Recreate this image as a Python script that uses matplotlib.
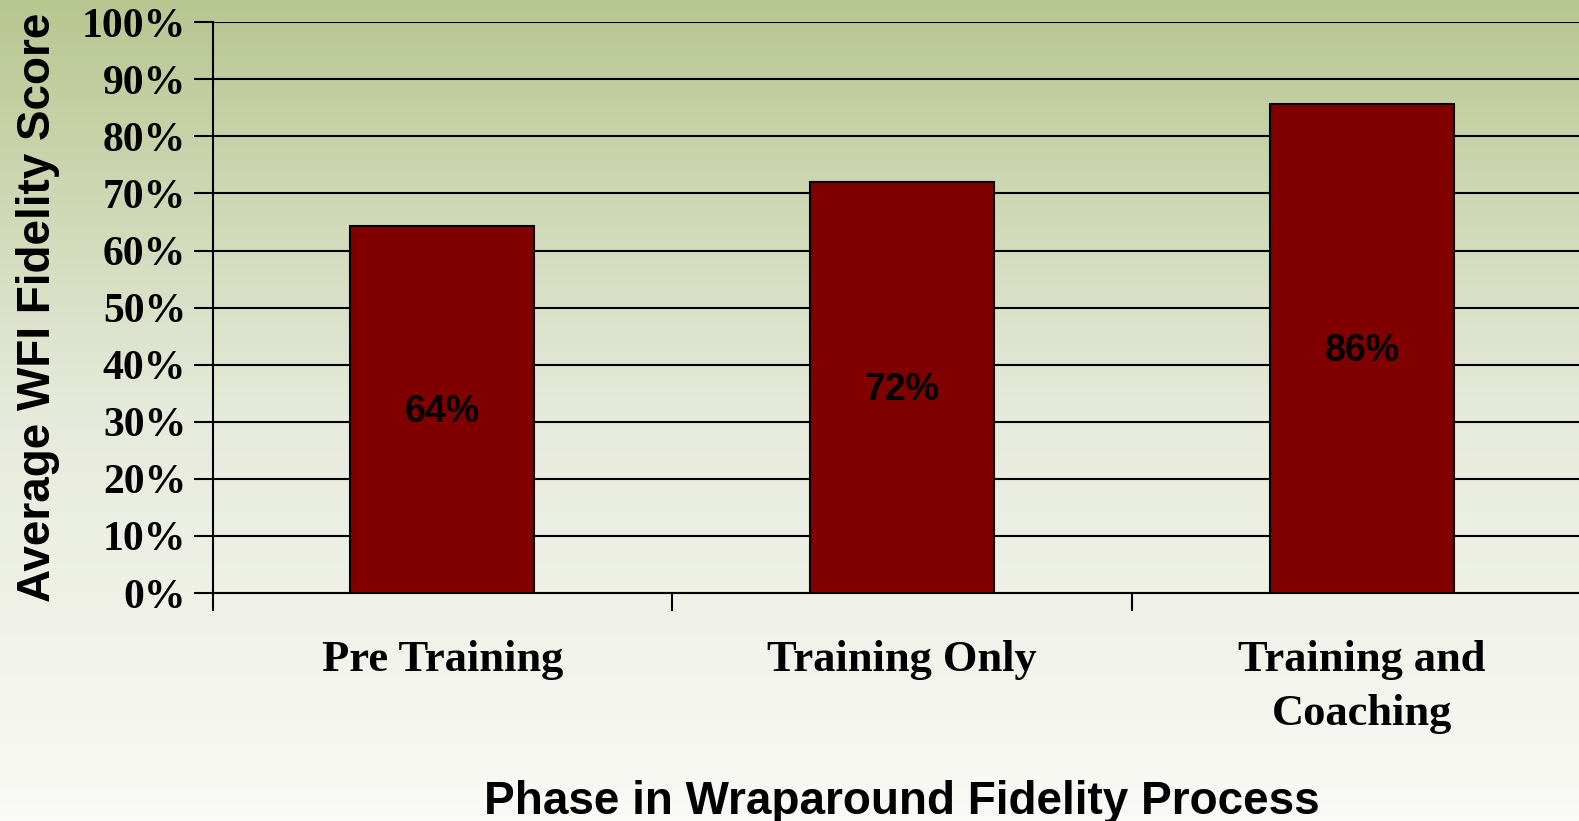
import numpy as np
import matplotlib
matplotlib.use("Agg")
import matplotlib.pyplot as plt
from matplotlib.colors import LinearSegmentedColormap

phases = ["Pre Training", "Training Only", "Training and\nCoaching"]
scores = [0.643, 0.72, 0.857]
score_labels = ["64%", "72%", "86%"]
y_ticks = [0.0, 0.1, 0.2, 0.3, 0.4, 0.5, 0.6, 0.7, 0.8, 0.9, 1.0]

fig = plt.figure(figsize=(15.79, 8.21), dpi=100)

# vertical gradient behind everything
bg = fig.add_axes([0, 0, 1, 1], zorder=-10)
cmap = LinearSegmentedColormap.from_list("bg", ["#fafaf6", "#e6eadb", "#b8c690"])
grad = np.linspace(0, 1, 256).reshape(-1, 1)
bg.imshow(grad, aspect="auto", cmap=cmap, origin="lower", extent=[0, 1, 0, 1])
bg.axis("off")

ax = fig.add_axes([0.1346, 0.2777, 0.8736, 0.6953])
ax.patch.set_alpha(0)
x = np.arange(len(phases))
ax.bar(x, scores, width=0.4, color="#800000", edgecolor="black", linewidth=1.5, zorder=3)

for xi, v, lab in zip(x, scores, score_labels):
    ax.text(xi, v / 2 - 0.005, lab, ha="center", va="center", fontsize=27,
            fontweight="bold", family="Liberation Sans", zorder=4)

ax.set_xlim(-0.5, 2.5)
ax.set_ylim(0, 1.0)
ax.set_yticks(y_ticks)
ax.set_yticklabels(["%d%%" % round(t * 100) for t in y_ticks],
                   family="Liberation Serif", fontweight="bold", fontsize=30)
ax.set_xticks(x)
ax.set_xticklabels(phases, family="Liberation Serif", fontweight="bold",
                   fontsize=32, linespacing=1.45)
ax.set_xticks([-0.5, 0.5, 1.5, 2.5], minor=True)
ax.tick_params(axis="x", which="major", length=0, pad=34)
ax.tick_params(axis="x", which="minor", length=13, width=1.5, direction="out")
ax.tick_params(axis="y", length=14, width=1.5, direction="out", pad=5)

ax.yaxis.grid(True, color="black", linewidth=1.5, zorder=1)
ax.set_axisbelow(True)
for side in ["top", "right"]:
    ax.spines[side].set_visible(False)
ax.spines["left"].set_linewidth(1.5)
ax.spines["bottom"].set_linewidth(1.5)

ax.set_ylabel("Average WFI Fidelity Score", family="Liberation Sans",
              fontweight="bold", fontsize=33, labelpad=16)
ax.set_xlabel("Phase in Wraparound Fidelity Process", family="Liberation Sans",
              fontweight="bold", fontsize=33, labelpad=33)

fig.savefig("out.png", dpi=100)
